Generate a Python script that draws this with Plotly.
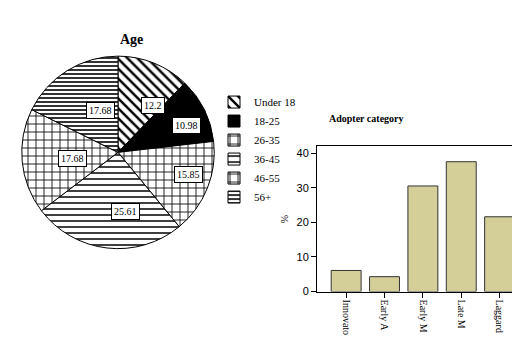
import math
import plotly.graph_objects as go

# ---- data ----
age_labels = ["Under 18", "18-25", "26-35", "36-45", "46-55", "56+"]
age_values = [12.2, 10.98, 15.85, 25.61, 17.68, 17.68]
age_text = ["12.2", "10.98", "15.85", "25.61", "17.68", "17.68"]

adopter_cats = ["Innovato", "Early A", "Early M", "Late M", "Laggard"]
adopter_pct = [6.1, 4.3, 30.5, 37.5, 21.6]
y_ticks = [0, 10, 20, 30, 40]

W, H = 520, 337
serif = "Liberation Serif"
sans = "Liberation Sans"

# pie geometry (pixels)
pcx, pcy, pr = 110, 147, 98

fig = go.Figure()

fig.add_trace(go.Pie(
    labels=age_labels, values=age_values, sort=False,
    direction="clockwise", rotation=0,
    textinfo="none", hoverinfo="label+value",
    domain=dict(x=[(pcx - pr) / W, (pcx + pr) / W],
                y=[1 - (pcy + pr) / H, 1 - (pcy - pr) / H]),
    marker=dict(
        colors=["white", "black", "white", "white", "white", "white"],
        line=dict(color="black", width=1),
        pattern=dict(
            shape=["\\", "", "+", "-", "+", "-"],
            size=[7, 8, 8, 6, 8, 4],
            solidity=[0.35, 0.3, 0.2, 0.25, 0.2, 0.4],
            fgcolor="black",
            bgcolor=["white", "black", "white", "white", "white", "white"],
        ),
    ),
    showlegend=True,
))

# boxed value labels placed along each slice bisector
total = sum(age_values)
cum = 0.0
for v, t in zip(age_values, age_text):
    mid = (cum + v / 2) / total * 2 * math.pi
    cum += v
    rl = 0.62 * pr
    px = pcx + rl * math.sin(mid)
    py = pcy - rl * math.cos(mid)
    fig.add_annotation(x=px / W, y=1 - py / H, xref="paper", yref="paper",
                       text=t, showarrow=False,
                       font=dict(family=serif, size=10, color="black"),
                       bgcolor="white", bordercolor="black", borderwidth=1,
                       borderpad=2)

fig.add_trace(go.Bar(
    x=adopter_cats, y=adopter_pct,
    marker=dict(color="#D4CF99", line=dict(color="#333333", width=1)),
    xaxis="x", yaxis="y", showlegend=False,
))

fig.update_layout(
    width=W, height=H,
    margin=dict(l=0, r=0, t=0, b=0),
    paper_bgcolor="white", plot_bgcolor="white",
    bargap=0.22,
    legend=dict(x=206 / W, y=1 - 81 / H, xanchor="left", yanchor="top",
                font=dict(family=serif, size=11, color="black"),
                bgcolor="rgba(0,0,0,0)", itemwidth=30, tracegroupgap=0),
    xaxis=dict(domain=[309 / W, 1.0], type="category", range=[-0.76, 4.74],
               showline=True, linecolor="black", linewidth=1, mirror=True,
               ticks="outside", ticklen=5, tickcolor="black", tickangle=90,
               tickfont=dict(family=serif, size=10, color="black"),
               showgrid=False, zeroline=False),
    yaxis=dict(domain=[1 - 288.7 / H, 1 - 141 / H], range=[0, 41.9],
               tickvals=y_ticks, showline=True, linecolor="black", linewidth=1,
               ticks="outside", ticklen=5, tickcolor="black",
               tickfont=dict(family=sans, size=11, color="black"),
               showgrid=False, zeroline=False,
               title=dict(text="%", font=dict(family=serif, size=10, color="black"),
                          standoff=6)),
    annotations=list(fig.layout.annotations) + [
        dict(x=110 / W, y=1 - 22 / H, xref="paper", yref="paper", text="<b>Age</b>",
             showarrow=False, font=dict(family=serif, size=14, color="black")),
        dict(x=398 / W, y=1 - 113 / H, xref="paper", yref="paper",
             text="<b>Adopter category</b>", showarrow=False,
             font=dict(family=serif, size=10, color="black")),
    ],
)

fig.write_html("out.html")
